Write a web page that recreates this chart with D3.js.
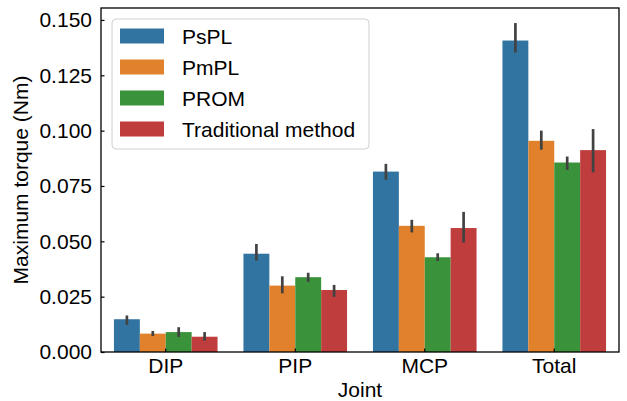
<!DOCTYPE html>
<html>
<head>
<meta charset="utf-8">
<script src="https://cdn.jsdelivr.net/npm/d3@7"></script>
<style>
  body { margin: 0; background: #fff; }
  text { font-family: "Liberation Sans", Arial, sans-serif; }
</style>
</head>
<body>
<svg></svg>
<script>
const width = 627;
const height = 401;

const joints = ['DIP', 'PIP', 'MCP', 'Total'];
const methods = ['PsPL', 'PmPL', 'PROM', 'Traditional method'];
const colors = ['#3274a1', '#e1812c', '#3a923a', '#c03d3e'];

// mean values per method, one entry per joint
const psplMean = [0.0148, 0.0444, 0.0815, 0.1407];
const pmplMean = [0.0083, 0.0300, 0.0570, 0.0954];
const promMean = [0.0090, 0.0338, 0.0428, 0.0856];
const tradMean = [0.0069, 0.0280, 0.0560, 0.0912];

// confidence interval ends (error bars)
const psplLow = [0.0123, 0.0413, 0.0778, 0.1353];
const psplHigh = [0.0165, 0.0488, 0.0850, 0.1486];
const pmplLow = [0.0072, 0.0265, 0.0540, 0.0914];
const pmplHigh = [0.0095, 0.0342, 0.0597, 0.1000];
const promLow = [0.0068, 0.0317, 0.0411, 0.0823];
const promHigh = [0.0112, 0.0358, 0.0446, 0.0883];
const tradLow = [0.0051, 0.0249, 0.0494, 0.0812];
const tradHigh = [0.0090, 0.0303, 0.0633, 0.1007];

const yTicks = [0, 0.025, 0.05, 0.075, 0.1, 0.125, 0.15];

const means = [psplMean, pmplMean, promMean, tradMean];
const lows = [psplLow, pmplLow, promLow, tradLow];
const highs = [psplHigh, pmplHigh, promHigh, tradHigh];

const rows = [];
methods.forEach((m, i) => {
  joints.forEach((j, k) => {
    rows.push({ joint: j, method: m, value: means[i][k], low: lows[i][k], high: highs[i][k], color: colors[i] });
  });
});

const margin = { left: 101, right: 8, top: 8, bottom: 49 };

const svg = d3.select('svg')
              .attr('width', width)
              .attr('height', height);

const x = d3.scaleBand()
            .domain(joints)
            .range([margin.left, width - margin.right]);

const inner = d3.scaleBand()
                .domain(methods)
                .range([-0.4 * x.bandwidth(), 0.4 * x.bandwidth()]);

const y = d3.scaleLinear()
            .domain([0, 0.1554])
            .range([height - margin.bottom, margin.top]);

const fontSize = '21px';

// bars
svg.append('g')
   .selectAll('rect')
   .data(rows)
   .enter()
   .append('rect')
     .attr('x', d => x(d.joint) + x.bandwidth() / 2 + inner(d.method))
     .attr('y', d => y(d.value))
     .attr('width', inner.bandwidth())
     .attr('height', d => y(0) - y(d.value))
     .attr('fill', d => d.color);

// error bars
svg.append('g')
   .selectAll('line')
   .data(rows)
   .enter()
   .append('line')
     .attr('x1', d => x(d.joint) + x.bandwidth() / 2 + inner(d.method) + inner.bandwidth() / 2)
     .attr('x2', d => x(d.joint) + x.bandwidth() / 2 + inner(d.method) + inner.bandwidth() / 2)
     .attr('y1', d => y(d.low))
     .attr('y2', d => y(d.high))
     .attr('stroke', '#424242')
     .attr('stroke-width', 2.7);

// axes, ticks point inward
const yAxis = svg.append('g')
                 .attr('transform', `translate(${margin.left},0)`)
                 .call(d3.axisLeft(y)
                         .tickValues(yTicks)
                         .tickFormat(d3.format('.3f'))
                         .tickSizeInner(-3.5)
                         .tickSizeOuter(0)
                         .tickPadding(9));

const xAxis = svg.append('g')
                 .attr('transform', `translate(0,${height - margin.bottom})`)
                 .call(d3.axisBottom(x)
                         .tickSizeInner(-3.5)
                         .tickSizeOuter(0)
                         .tickPadding(6));

[yAxis, xAxis].forEach(a => {
  a.select('.domain').remove();
  a.selectAll('line').attr('stroke', '#000').attr('stroke-width', 1.2);
  a.selectAll('text').attr('font-size', fontSize).attr('fill', '#000')
   .style('font-family', '"Liberation Sans", Arial, sans-serif');
});

// frame
svg.append('rect')
   .attr('x', margin.left)
   .attr('y', margin.top)
   .attr('width', width - margin.left - margin.right)
   .attr('height', height - margin.top - margin.bottom)
   .attr('fill', 'none')
   .attr('stroke', '#000')
   .attr('stroke-width', 1.3);

// axis titles
svg.append('text')
   .attr('x', (margin.left + width - margin.right) / 2)
   .attr('y', 397)
   .attr('text-anchor', 'middle')
   .attr('font-size', fontSize)
   .text('Joint');

svg.append('text')
   .attr('transform', `translate(28,${(margin.top + height - margin.bottom) / 2}) rotate(-90)`)
   .attr('text-anchor', 'middle')
   .attr('font-size', fontSize)
   .text('Maximum torque (Nm)');

// legend
const legend = svg.append('g');
legend.append('rect')
      .attr('x', 112)
      .attr('y', 19)
      .attr('width', 257)
      .attr('height', 130)
      .attr('rx', 4)
      .attr('fill', '#fff')
      .attr('fill-opacity', 0.8)
      .attr('stroke', '#d0d0d0')
      .attr('stroke-width', 1);

const item = legend.selectAll('g.item')
                   .data(methods)
                   .enter()
                   .append('g')
                     .attr('class', 'item')
                     .attr('transform', (d, i) => `translate(0,${36 + i * 31})`);

item.append('rect')
    .attr('x', 120)
    .attr('y', -7.5)
    .attr('width', 44)
    .attr('height', 15)
    .attr('fill', (d, i) => colors[i]);

item.append('text')
    .attr('x', 182)
    .attr('y', 7.5)
    .attr('font-size', fontSize)
    .text(d => d);
</script>
</body>
</html>
